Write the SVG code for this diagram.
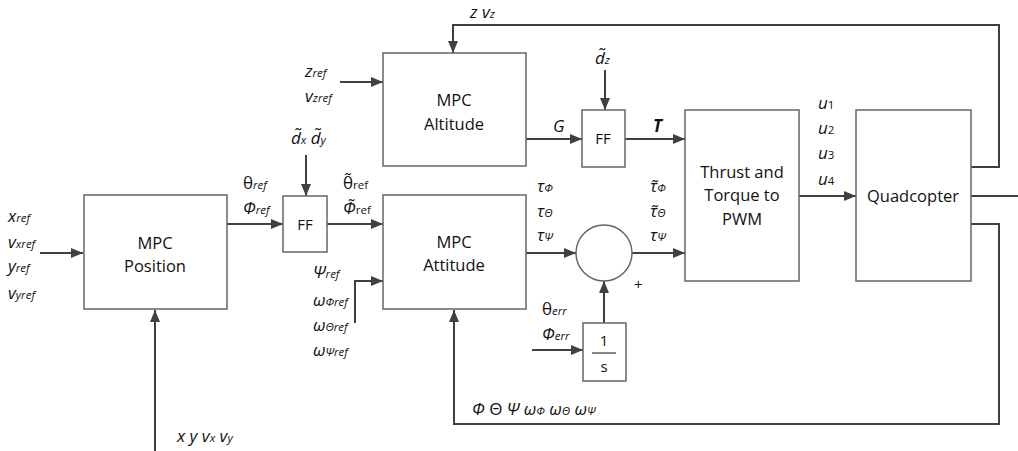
<svg xmlns="http://www.w3.org/2000/svg" width="1018" height="451" viewBox="0 0 1018 451">
<style>
.box{fill:#fff;stroke:#666;stroke-width:1.5}
.ln{fill:none;stroke:#404040;stroke-width:2}
.t{font-family:"Open Sans","Liberation Sans",sans-serif;font-size:16.5px;fill:#111;text-anchor:middle}
.l{font-family:"Open Sans","DejaVu Sans",sans-serif;font-size:17px;fill:#111;font-style:italic}
.s{font-size:11.5px}
.u{font-style:normal}
</style>
<defs>
<marker id="ah" viewBox="0 0 12 10" refX="12" refY="5" markerWidth="12" markerHeight="10" markerUnits="userSpaceOnUse" orient="auto">
<path d="M0,0 L12,5 L0,10 z" fill="#404040"/>
</marker>
</defs>
<g id="connectors">
<line class="ln" x1="40" y1="253" x2="83" y2="253" marker-end="url(#ah)"/>
<line class="ln" x1="155" y1="451" x2="155" y2="310" marker-end="url(#ah)"/>
<line class="ln" x1="227" y1="224" x2="283" y2="224" marker-end="url(#ah)"/>
<line class="ln" x1="306" y1="155" x2="306" y2="196" marker-end="url(#ah)"/>
<line class="ln" x1="327" y1="224" x2="383" y2="224" marker-end="url(#ah)"/>
<line class="ln" x1="340" y1="82" x2="383" y2="82" marker-end="url(#ah)"/>
<polyline class="ln" points="971,167 999,167 999,25 453,25 453,53" marker-end="url(#ah)"/>
<line class="ln" x1="526" y1="139" x2="582" y2="139" marker-end="url(#ah)"/>
<line class="ln" x1="605" y1="70" x2="605" y2="110" marker-end="url(#ah)"/>
<line class="ln" x1="625" y1="139" x2="685" y2="139" marker-end="url(#ah)"/>
<line class="ln" x1="526" y1="253" x2="576" y2="253" marker-end="url(#ah)"/>
<line class="ln" x1="632" y1="253" x2="685" y2="253" marker-end="url(#ah)"/>
<line class="ln" x1="604" y1="323" x2="604" y2="281" marker-end="url(#ah)"/>
<line class="ln" x1="532" y1="350" x2="583" y2="350" marker-end="url(#ah)"/>
<polyline class="ln" points="355,323 355,281 383,281" marker-end="url(#ah)"/>
<line class="ln" x1="799" y1="196" x2="856" y2="196" marker-end="url(#ah)"/>
<line class="ln" x1="971" y1="196" x2="1018" y2="196"/>
<polyline class="ln" points="971,224 999,224 999,424 454,424 454,310" marker-end="url(#ah)"/>
</g>
<g id="mpc-position">
<rect class="box" x="84" y="195" width="143" height="114"/>
<text class="t" x="155" y="249">MPC</text>
<text class="t" x="155" y="272">Position</text>
</g>
<g id="ff1">
<rect class="box" x="283" y="196" width="44" height="56"/>
<text class="t" x="305" y="230" style="font-size:15px">FF</text>
</g>
<g id="mpc-altitude">
<rect class="box" x="383" y="53" width="143" height="113"/>
<text class="t" x="454" y="106">MPC</text>
<text class="t" x="454" y="130">Altitude</text>
</g>
<g id="ff2">
<rect class="box" x="582" y="110" width="43" height="57"/>
<text class="t" x="603" y="144" style="font-size:15px">FF</text>
</g>
<g id="mpc-attitude">
<rect class="box" x="383" y="195" width="143" height="114"/>
<text class="t" x="454" y="248">MPC</text>
<text class="t" x="454" y="271">Attitude</text>
</g>
<g id="sum">
<circle class="box" cx="604" cy="253" r="28"/>
</g>
<g id="integrator">
<rect class="box" x="583" y="323" width="43" height="58"/>
<text class="t" x="604" y="346" style="font-size:15px">1</text>
<line x1="592" y1="353" x2="616" y2="353" stroke="#111" stroke-width="1"/>
<text class="t" x="604" y="372" style="font-size:15px">s</text>
</g>
<g id="thrust">
<rect class="box" x="685" y="110" width="114" height="171"/>
<text class="t" x="742" y="178">Thrust and</text>
<text class="t" x="742" y="201">Torque to</text>
<text class="t" x="742" y="225">PWM</text>
</g>
<g id="quadcopter">
<rect class="box" x="856" y="110" width="115" height="171"/>
<text class="t" x="913" y="202">Quadcopter</text>
</g>
<g id="labels">
<text class="l" x="8" y="222">x<tspan class="s">ref</tspan></text>
<text class="l" x="8" y="248">v<tspan class="s">xref</tspan></text>
<text class="l" x="8" y="272">y<tspan class="s">ref</tspan></text>
<text class="l" x="8" y="299">v<tspan class="s">yref</tspan></text>
<text class="l" x="177" y="442">x y v<tspan class="s">x</tspan> v<tspan class="s">y</tspan></text>
<text class="l" x="243" y="189"><tspan class="u">θ</tspan><tspan class="s">ref</tspan></text>
<text class="l" x="243" y="214">Φ<tspan class="s">ref</tspan></text>
<text class="l" x="291" y="144">d̃<tspan class="s">x</tspan> d̃<tspan class="s">y</tspan></text>
<text class="l" x="343" y="189"><tspan class="u">θ̃</tspan><tspan class="s u">ref</tspan></text>
<text class="l" x="343" y="214">Φ̃<tspan class="s u">ref</tspan></text>
<text class="l" x="305" y="77">z<tspan class="s">ref</tspan></text>
<text class="l" x="305" y="102">v<tspan class="s">zref</tspan></text>
<text class="l" x="470" y="18">z v<tspan class="s">z</tspan></text>
<text class="l" x="595" y="64">d̃<tspan class="s">z</tspan></text>
<text class="l" x="553" y="132">G</text>
<text class="l" x="653" y="132" font-weight="bold">T</text>
<text class="l" x="818" y="109">u<tspan class="s u">1</tspan></text>
<text class="l" x="818" y="134">u<tspan class="s u">2</tspan></text>
<text class="l" x="818" y="159">u<tspan class="s u">3</tspan></text>
<text class="l" x="818" y="185">u<tspan class="s u">4</tspan></text>
<text class="l" x="537" y="192">τ<tspan class="s">Φ</tspan></text>
<text class="l" x="537" y="217">τ<tspan class="s">Θ</tspan></text>
<text class="l" x="537" y="241">τ<tspan class="s">Ψ</tspan></text>
<text class="l" x="650" y="192">τ̃<tspan class="s">Φ</tspan></text>
<text class="l" x="650" y="217">τ̃<tspan class="s">Θ</tspan></text>
<text class="l" x="650" y="241">τ<tspan class="s">Ψ</tspan></text>
<text class="l u" x="634" y="290" style="font-style:normal;font-size:15px">+</text>
<text class="l" x="542" y="315"><tspan class="u">θ</tspan><tspan class="s">err</tspan></text>
<text class="l" x="542" y="340">Φ<tspan class="s">err</tspan></text>
<text class="l" x="313" y="278">Ψ<tspan class="s">ref</tspan></text>
<text class="l" x="313" y="306">ω<tspan class="s">Φref</tspan></text>
<text class="l" x="313" y="331">ω<tspan class="s">Θref</tspan></text>
<text class="l" x="313" y="356">ω<tspan class="s">Ψref</tspan></text>
<text class="l" x="472" y="415">Φ <tspan class="u">Θ</tspan> Ψ ω<tspan class="s">Φ</tspan> ω<tspan class="s">Θ</tspan> ω<tspan class="s">Ψ</tspan></text>
</g>
</svg>
